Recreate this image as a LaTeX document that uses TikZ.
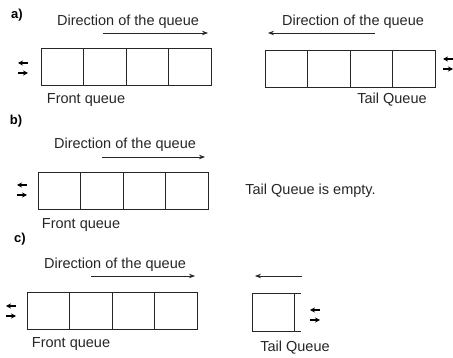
\documentclass[tikz,border=0pt]{standalone}
\usepackage{fontspec}
\setmainfont{Liberation Sans}
\usepackage{tikz}
\usetikzlibrary{arrows.meta, positioning}

\begin{document}
\begin{tikzpicture}[x=1pt, y=-1pt, node distance=0pt, line width=0.8pt, >={Stealth[length=6pt, width=4.5pt]}]
    \tikzset{
        cell/.style={rectangle, draw=black!85, minimum width=42.5pt, minimum height=37pt, inner sep=0pt, outer sep=0pt},
        label/.style={font=\fontsize{14.5}{17}\selectfont, text=black!85, inner sep=0pt},
        part/.style={font=\fontsize{13}{15}\selectfont\bfseries, inner sep=0pt},
        line/.style={draw=black!85, ->},
        io/.style={draw=black, ->, line width=1.1pt, >={Stealth[length=5pt, width=5pt]}}
    }
    \useasboundingbox (0,0) rectangle (453,358);

    % a)
    \node (PartA) [part] at (17,15) {a)};
    \node (DirA) [label] at (128,22) {Direction of the queue};
    \node (A1) [cell, anchor=north west] at (41,48) {};
    \node (A2) [cell, right=of A1] {};
    \node (A3) [cell, right=of A2] {};
    \node (A4) [cell, right=of A3] {};
    \node (FrontA) [label] at (86,100) {Front queue};
    \coordinate (DirAs) at (103,33);
    \coordinate (DirAe) at (208,33);
    \path [line] (DirAs) -- (DirAe);
    \coordinate (InA) at (18,63);
    \coordinate (OutA) at (18,73);
    \path [io] ([xshift=10pt]InA) -- (InA);
    \path [io] (OutA) -- ([xshift=10pt]OutA);

    \node (DirT) [label] at (353,22) {Direction of the queue};
    \node (T1) [cell, anchor=north west] at (265,50) {};
    \node (T2) [cell, right=of T1] {};
    \node (T3) [cell, right=of T2] {};
    \node (T4) [cell, right=of T3] {};
    \node (TailA) [label] at (392,100) {Tail Queue};
    \coordinate (DirTs) at (375,33);
    \coordinate (DirTe) at (268,33);
    \path [line] (DirTs) -- (DirTe);
    \coordinate (InT) at (443,59);
    \coordinate (OutT) at (443,69);
    \path [io] ([xshift=10pt]InT) -- (InT);
    \path [io] (OutT) -- ([xshift=10pt]OutT);

    % b)
    \node (PartB) [part] at (16,121) {b)};
    \node (DirB) [label] at (125,145) {Direction of the queue};
    \node (B1) [cell, anchor=north west] at (38,172) {};
    \node (B2) [cell, right=of B1] {};
    \node (B3) [cell, right=of B2] {};
    \node (B4) [cell, right=of B3] {};
    \node (FrontB) [label] at (81,225) {Front queue};
    \node (Empty) [label, anchor=west] at (245,191) {Tail Queue is empty.};
    \coordinate (DirBs) at (102,157);
    \coordinate (DirBe) at (205,157);
    \path [line] (DirBs) -- (DirBe);
    \coordinate (InB) at (17,185);
    \coordinate (OutB) at (17,195);
    \path [io] ([xshift=10pt]InB) -- (InB);
    \path [io] (OutB) -- ([xshift=10pt]OutB);

    % c)
    \node (PartC) [part] at (20,239) {c)};
    \node (DirC) [label] at (115,265) {Direction of the queue};
    \node (C1) [cell, anchor=north west] at (27,292) {};
    \node (C2) [cell, right=of C1] {};
    \node (C3) [cell, right=of C2] {};
    \node (C4) [cell, right=of C3] {};
    \node (FrontC) [label] at (71,344) {Front queue};
    \coordinate (DirCs) at (91,276);
    \coordinate (DirCe) at (195,276);
    \path [line] (DirCs) -- (DirCe);
    \coordinate (InC) at (6,306);
    \coordinate (OutC) at (6,316);
    \path [io] ([xshift=10pt]InC) -- (InC);
    \path [io] (OutC) -- ([xshift=10pt]OutC);

    \node (U1) [cell, anchor=north west, minimum width=42pt, minimum height=38pt] at (252,293) {};
    \draw [draw=black!85] (U1.north east) -- ++(7,0);
    \draw [draw=black!85] (U1.south east) -- ++(7,0);
    \node (TailC) [label] at (295,348) {Tail Queue};
    \coordinate (DirUs) at (302,276);
    \coordinate (DirUe) at (255,276);
    \path [line] (DirUs) -- (DirUe);
    \coordinate (InU) at (310,310);
    \coordinate (OutU) at (310,320);
    \path [io] ([xshift=10pt]InU) -- (InU);
    \path [io] (OutU) -- ([xshift=10pt]OutU);

\end{tikzpicture}
\end{document}
